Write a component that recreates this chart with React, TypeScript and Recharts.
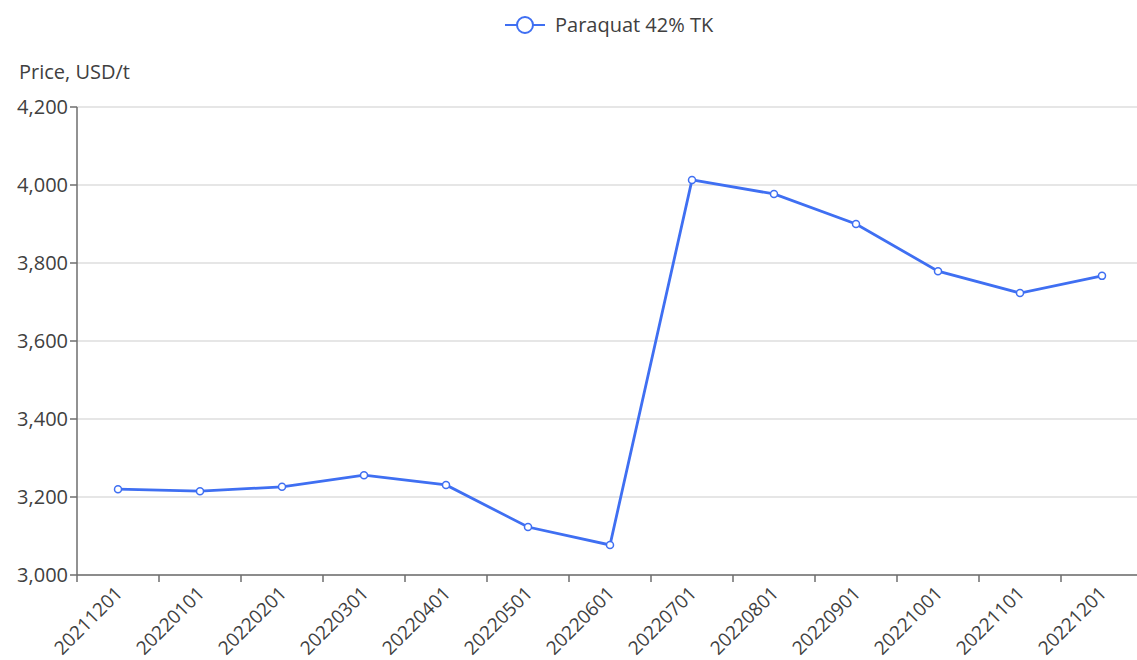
import React from "react";
import { CartesianGrid, Line, LineChart, XAxis, YAxis } from "recharts";

const months = [
  "20211201", "20220101", "20220201", "20220301", "20220401", "20220501", "20220601",
  "20220701", "20220801", "20220901", "20221001", "20221101", "20221201",
];
const paraquat = [3220, 3215, 3226, 3256, 3231, 3123, 3077, 4013, 3977, 3900, 3779, 3723, 3767];
const yTicks = [3000, 3200, 3400, 3600, 3800, 4000, 4200];

const W = 1137;
const CHART_W = 1143;
const H = 660;
const LEFT = 77;
const BAND = (CHART_W - LEFT) / months.length;
const BLUE = "#3f6ff2";
const AXIS = "#6e6e6e";
const TEXT = "#404040";
const FONT = "'Open Sans', 'Noto Sans', sans-serif";
const FS = 20;

const data = months.map((m, i) => ({ month: m, value: paraquat[i] }));

function MonthTick({ x, y, payload, index }: any) {
  const left = x - BAND / 2;
  return (
    <g>
      <line x1={left} y1={y - 8} x2={left} y2={y - 1} stroke={AXIS} strokeWidth={1.5} />
      {index === months.length - 1 && (
        <line x1={x + BAND / 2} y1={y - 8} x2={x + BAND / 2} y2={y - 1} stroke={AXIS} strokeWidth={1.5} />
      )}
      <text
        x={x + 2}
        y={y + 8}
        transform={`rotate(-45 ${x + 2} ${y + 8})`}
        textAnchor="end"
        dominantBaseline="middle"
        fill={TEXT}
        fontSize={FS - 1}
        fontFamily={FONT}
      >
        {payload.value}
      </text>
    </g>
  );
}

export default function App() {
  return (
    <div style={{ position: "absolute", left: 0, top: 0, width: W, height: H, background: "#fff", overflow: "hidden" }}>
      <div
        style={{
          position: "absolute",
          left: 505,
          top: 11,
          display: "flex",
          alignItems: "center",
          gap: 10,
          fontFamily: FONT,
          fontSize: FS,
          color: TEXT,
          whiteSpace: "nowrap",
        }}
      >
        <svg width={40} height={20}>
          <line x1={0} y1={10} x2={40} y2={10} stroke={BLUE} strokeWidth={2} />
          <circle cx={20} cy={10} r={8} fill="#fff" stroke={BLUE} strokeWidth={2} />
        </svg>
        <span>Paraquat 42% TK</span>
      </div>
      <div style={{ position: "absolute", left: 19, top: 58, fontFamily: FONT, fontSize: FS, color: TEXT }}>
        Price, USD/t
      </div>
      <LineChart width={CHART_W} height={H} data={data} margin={{ top: 107, right: 0, left: 0, bottom: 0 }}>
        <CartesianGrid vertical={false} stroke="#dedede" strokeWidth={1.5} />
        <XAxis
          dataKey="month"
          scale="band"
          interval={0}
          height={85}
          tickLine={false}
          axisLine={{ stroke: AXIS, strokeWidth: 1.5 }}
          tick={<MonthTick />}
        />
        <YAxis
          width={LEFT}
          domain={[3000, 4200]}
          ticks={yTicks}
          interval={0}
          tickSize={7}
          tickFormatter={(v: number) => v.toLocaleString("en-US")}
          tick={{ fill: TEXT, fontSize: FS, fontFamily: FONT }}
          tickLine={{ stroke: AXIS, strokeWidth: 1.5 }}
          axisLine={{ stroke: AXIS, strokeWidth: 1.5 }}
        />
        <Line
          type="linear"
          dataKey="value"
          name="Paraquat 42% TK"
          stroke={BLUE}
          strokeWidth={2.8}
          dot={{ r: 3.5, fill: "#fff", stroke: BLUE, strokeWidth: 1.5 }}
          isAnimationActive={false}
        />
      </LineChart>
    </div>
  );
}
